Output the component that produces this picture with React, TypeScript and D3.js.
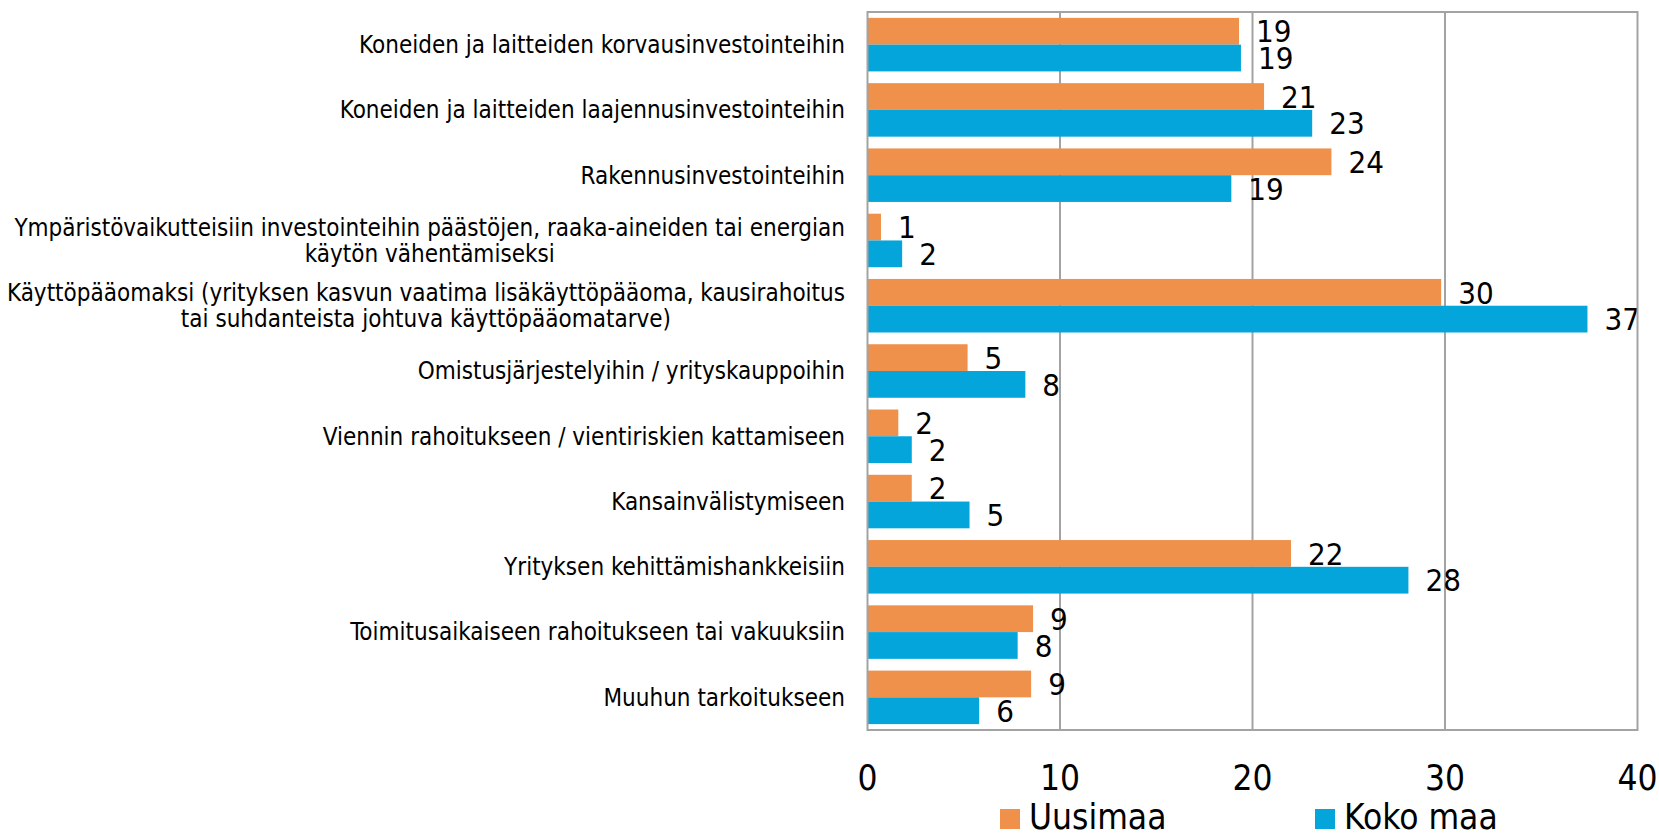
import { useMemo } from 'react';
import * as d3 from 'd3';

const categories = [
  'Koneiden ja laitteiden korvausinvestointeihin',
  'Koneiden ja laitteiden laajennusinvestointeihin',
  'Rakennusinvestointeihin',
  'Ympäristövaikutteisiin investointeihin päästöjen, raaka-aineiden tai energian|käytön vähentämiseksi',
  'Käyttöpääomaksi (yrityksen kasvun vaatima lisäkäyttöpääoma, kausirahoitus|tai suhdanteista johtuva käyttöpääomatarve)',
  'Omistusjärjestelyihin / yrityskauppoihin',
  'Viennin rahoitukseen / vientiriskien kattamiseen',
  'Kansainvälistymiseen',
  'Yrityksen kehittämishankkeisiin',
  'Toimitusaikaiseen rahoitukseen tai vakuuksiin',
  'Muuhun tarkoitukseen',
];

const uusimaa = [19.3, 20.6, 24.1, 0.7, 29.8, 5.2, 1.6, 2.3, 22.0, 8.6, 8.5];
const kokoMaa = [19.4, 23.1, 18.9, 1.8, 37.4, 8.2, 2.3, 5.3, 28.1, 7.8, 5.8];

const seriesNames = ['Uusimaa', 'Koko maa'];
const seriesColors = ['#F0914B', '#03A5DA'];
const xTicks = [0, 10, 20, 30, 40];

const W = 1659;
const H = 838;
const font = '"DejaVu Sans Condensed", sans-serif';
const labelSize = 24;
const labelRight = 845;

export default function App() {
  const x = useMemo(() => d3.scaleLinear().domain([0, 40]).range([867.5, 1637.5]), []);
  const y = useMemo(
    () => d3.scaleBand<string>().domain(categories).range([12, 730]).paddingInner(0.18).paddingOuter(0.09),
    []
  );
  const sub = useMemo(
    () => d3.scaleBand<string>().domain(seriesNames).range([0, y.bandwidth()]),
    [y]
  );

  // width of the widest line, so wrapped labels sit right-aligned as a block
  const measure = useMemo(() => {
    const ctx = document.createElement('canvas').getContext('2d')!;
    ctx.font = `${labelSize}px ${font}`;
    return (s: string) => ctx.measureText(s).width;
  }, []);

  const series = [uusimaa, kokoMaa];
  const [top, bottom] = y.range();
  const [left, right] = x.range();

  return (
    <svg width={W} height={H} style={{ position: 'absolute', left: 0, top: 0, background: '#fff' }}>
      {/* gridlines */}
      {xTicks.slice(1, -1).map((t) => (
        <line key={t} x1={x(t)} x2={x(t)} y1={top} y2={bottom} stroke="#a3a3a3" strokeWidth={2} />
      ))}

      {/* bars */}
      {categories.map((c, i) =>
        series.map((vals, s) => {
          const by = y(c)! + sub(seriesNames[s])!;
          return (
            <g key={c + s}>
              <rect
                x={x(0)}
                y={by}
                width={x(vals[i]) - x(0)}
                height={sub.bandwidth()}
                fill={seriesColors[s]}
              />
              <text
                x={x(vals[i]) + 17}
                y={by + sub.bandwidth() / 2}
                dy="0.36em"
                fontSize={31}
                fontFamily={font}
                fill="#000"
              >
                {Math.round(vals[i])}
              </text>
            </g>
          );
        })
      )}

      {/* plot border */}
      <rect x={left} y={top} width={right - left} height={bottom - top} fill="none" stroke="#a3a3a3" strokeWidth={2} />

      {/* category labels */}
      {categories.map((c) => {
        const lines = c.split('|');
        const cy = y(c)! + y.bandwidth() / 2;
        const lh = 25.5;
        const blockW = d3.max(lines, measure)!;
        const cx = labelRight - blockW / 2;
        return (
          <text key={c} textAnchor="middle" fontSize={labelSize} fontFamily={font} fill="#000">
            {lines.map((l, j) => (
              <tspan key={j} x={cx} y={cy + (j - (lines.length - 1) / 2) * lh} dy="0.35em">
                {l}
              </tspan>
            ))}
          </text>
        );
      })}

      {/* x tick labels */}
      {xTicks.map((t) => (
        <text key={t} x={x(t)} y={790} textAnchor="middle" fontSize={35} fontFamily={font} fill="#000">
          {t}
        </text>
      ))}

      {/* legend */}
      {seriesNames.map((n, s) => {
        const lx = [1000, 1315][s];
        return (
          <g key={n}>
            <rect x={lx} y={809} width={20} height={20} fill={seriesColors[s]} />
            <text x={lx + 29} y={829} fontSize={35} fontFamily={font} fill="#000">
              {n}
            </text>
          </g>
        );
      })}
    </svg>
  );
}
